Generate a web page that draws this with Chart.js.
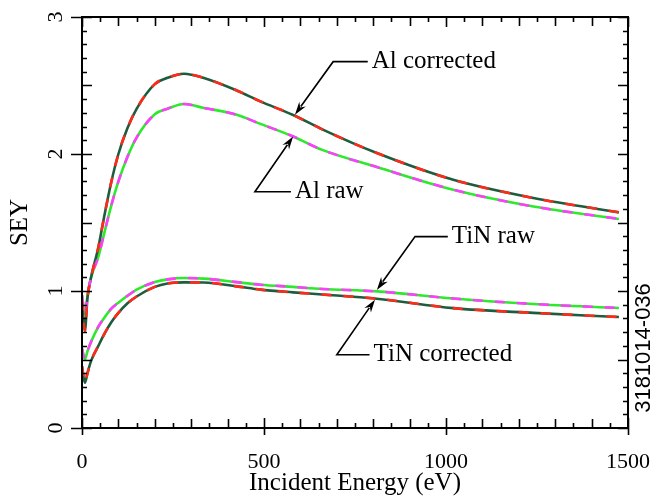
<!DOCTYPE html>
<html>
<head>
<meta charset="utf-8">
<script src="https://cdn.jsdelivr.net/npm/chart.js@4.4.0/dist/chart.umd.min.js"></script>
<style>
  html, body { margin: 0; padding: 0; background: #fff; }
  canvas { display: block; }
</style>
</head>
<body>
<canvas id="sey-chart" width="661" height="496"></canvas>
<script>
// values (energy in eV)
const energy       = [0, 8, 15, 25, 45, 60, 80, 100, 125, 150, 200, 235, 280, 335, 425, 490, 580, 660, 810, 1020, 1240, 1475];
const alCorrected  = [0.93, 0.71, 0.95, 1.10, 1.32, 1.53, 1.79, 2.00, 2.19, 2.33, 2.51, 2.556, 2.586, 2.555, 2.464, 2.384, 2.285, 2.18, 2.007, 1.812, 1.679, 1.574];
const alRaw        = [0.97, 0.83, 0.96, 1.10, 1.25, 1.41, 1.62, 1.80, 1.98, 2.12, 2.29, 2.33, 2.365, 2.336, 2.287, 2.22, 2.128, 2.03, 1.905, 1.739, 1.617, 1.526];
const tinRaw       = [0.58, 0.50, 0.56, 0.63, 0.74, 0.80, 0.87, 0.915, 0.965, 1.01, 1.065, 1.085, 1.095, 1.09, 1.065, 1.046, 1.03, 1.015, 0.997, 0.945, 0.905, 0.876];
const tinCorrected = [0.45, 0.33, 0.40, 0.49, 0.60, 0.68, 0.77, 0.84, 0.91, 0.96, 1.03, 1.055, 1.063, 1.062, 1.034, 1.01, 0.99, 0.975, 0.944, 0.875, 0.84, 0.81];

const xTickLabels = [0, 500, 1000, 1500];
const yTickLabels = [0, 1, 2, 3];
const xTitle = 'Incident Energy (eV)';
const yTitle = 'SEY';
const figureId = '3181014-036';

// callouts: arrow tip on the curve, elbow, end of the flat leader (data coords)
const callouts = [
    { text: 'Al corrected',  tip: [585, 2.287], elbow: [690, 2.674], end: [785, 2.674] },
    { text: 'Al raw',        tip: [580, 2.128], elbow: [475, 1.725], end: [574, 1.725] },
    { text: 'TiN raw',       tip: [810, 1.008], elbow: [915, 1.397], end: [1005, 1.397] },
    { text: 'TiN corrected', tip: [805, 0.937], elbow: [700, 0.535], end: [790, 0.535] }
];

const toPoints = values => energy.map((e, i) => ({ x: e, y: values[i] }));

// each curve is a solid line with a dashed line of a second colour on top
// (lower "order" is drawn last, i.e. on top)
function curve(values, baseColor, dashColor) {
    const style = { pointRadius: 0, borderWidth: 2.6, cubicInterpolationMode: 'monotone', fill: false };
    return [
        { ...style, data: toPoints(values), borderColor: baseColor, order: 2 },
        { ...style, data: toPoints(values), borderColor: dashColor, borderDash: [10, 12], order: 1 }
    ];
}

const frame = {
    id: 'frame',
    beforeDraw(chart) {
        const ctx = chart.ctx;
        ctx.save();
        ctx.fillStyle = '#fff';
        ctx.fillRect(0, 0, chart.width, chart.height);
        ctx.restore();
    },
    afterDatasetsDraw(chart) {
        const { ctx, chartArea: a, scales: { x, y } } = chart;
        ctx.save();
        ctx.strokeStyle = '#000';
        ctx.lineWidth = 2;
        ctx.strokeRect(a.left, a.top, a.right - a.left, a.bottom - a.top);

        // ticks, all four sides point inward; majors also stick out left/bottom
        ctx.lineWidth = 1.6;
        ctx.beginPath();
        for (let i = 0; i <= 30; i++) {
            const px = Math.round(x.getPixelForValue(i * 50)) + 0.5;
            const len = i % 10 === 0 ? 10 : i % 2 === 0 ? 9 : 5;
            const out = i % 10 === 0 ? 7 : 0;
            ctx.moveTo(px, a.bottom + out);
            ctx.lineTo(px, a.bottom - len);
            ctx.moveTo(px, a.top);
            ctx.lineTo(px, a.top + len);
        }
        for (let i = 0; i <= 30; i++) {
            const py = Math.round(y.getPixelForValue(i / 10)) + 0.5;
            const len = i % 5 === 0 ? 10 : 5;
            const out = i % 10 === 0 ? 11 : 0;
            ctx.moveTo(a.left - out, py);
            ctx.lineTo(a.left + len, py);
            ctx.moveTo(a.right, py);
            ctx.lineTo(a.right - len, py);
        }
        ctx.stroke();

        // tick labels
        ctx.fillStyle = '#000';
        ctx.font = '22px "Liberation Serif", serif';
        ctx.textAlign = 'center';
        ctx.textBaseline = 'middle';
        xTickLabels.forEach(v => ctx.fillText(String(v), x.getPixelForValue(v), a.bottom + 34));
        yTickLabels.forEach(v => {
            ctx.save();
            ctx.translate(a.left - 26, y.getPixelForValue(v));
            ctx.rotate(-Math.PI / 2);
            ctx.fillText(String(v), 0, 0);
            ctx.restore();
        });

        // axis titles
        ctx.font = '25px "Liberation Serif", serif';
        ctx.fillText(xTitle, (a.left + a.right) / 2, a.bottom + 55);
        ctx.save();
        ctx.translate(20, (a.top + a.bottom) / 2);
        ctx.rotate(-Math.PI / 2);
        ctx.fillText(yTitle, 0, 0);
        ctx.restore();

        // figure number on the right
        ctx.save();
        ctx.font = '22px "Liberation Sans", sans-serif';
        ctx.translate(a.right + 16, 348);
        ctx.rotate(-Math.PI / 2);
        ctx.fillText(figureId, 0, 0);
        ctx.restore();

        // callouts
        ctx.font = '25px "Liberation Serif", serif';
        ctx.textAlign = 'left';
        ctx.lineWidth = 1.6;
        callouts.forEach(c => {
            const tx = x.getPixelForValue(c.tip[0]), ty = y.getPixelForValue(c.tip[1]);
            const ex = x.getPixelForValue(c.elbow[0]), ey = y.getPixelForValue(c.elbow[1]);
            const nx = x.getPixelForValue(c.end[0]), ny = y.getPixelForValue(c.end[1]);
            const ang = Math.atan2(ty - ey, tx - ex);
            const hl = 13, hw = 4;
            const bx = tx - Math.cos(ang) * hl, by = ty - Math.sin(ang) * hl;
            ctx.beginPath();
            ctx.moveTo(nx, ny);
            ctx.lineTo(ex, ey);
            ctx.lineTo(bx + Math.cos(ang) * 3, by + Math.sin(ang) * 3);
            ctx.stroke();
            ctx.beginPath();
            ctx.moveTo(tx, ty);
            ctx.lineTo(bx - Math.sin(ang) * hw, by + Math.cos(ang) * hw);
            ctx.lineTo(bx + Math.cos(ang) * 4, by + Math.sin(ang) * 4);
            ctx.lineTo(bx + Math.sin(ang) * hw, by - Math.cos(ang) * hw);
            ctx.closePath();
            ctx.fill();
            ctx.fillText(c.text, nx + 4, ny);
        });
        ctx.restore();
    }
};

new Chart(document.getElementById('sey-chart'), {
    type: 'line',
    data: {
        datasets: [
            ...curve(alCorrected, '#1f5c3e', '#ff2a1a'),
            ...curve(alRaw, '#2ee82e', '#ff3cff'),
            ...curve(tinRaw, '#2ee82e', '#ff3cff'),
            ...curve(tinCorrected, '#1f5c3e', '#ff2a1a')
        ]
    },
    options: {
        responsive: false,
        animation: false,
        devicePixelRatio: 1,
        layout: { padding: { left: 82, right: 33, top: 17, bottom: 68 } },
        plugins: { legend: { display: false }, tooltip: { enabled: false } },
        scales: {
            x: { type: 'linear', min: 0, max: 1500, display: false },
            y: { type: 'linear', min: 0, max: 3, display: false }
        }
    },
    plugins: [frame]
});
</script>
</body>
</html>
